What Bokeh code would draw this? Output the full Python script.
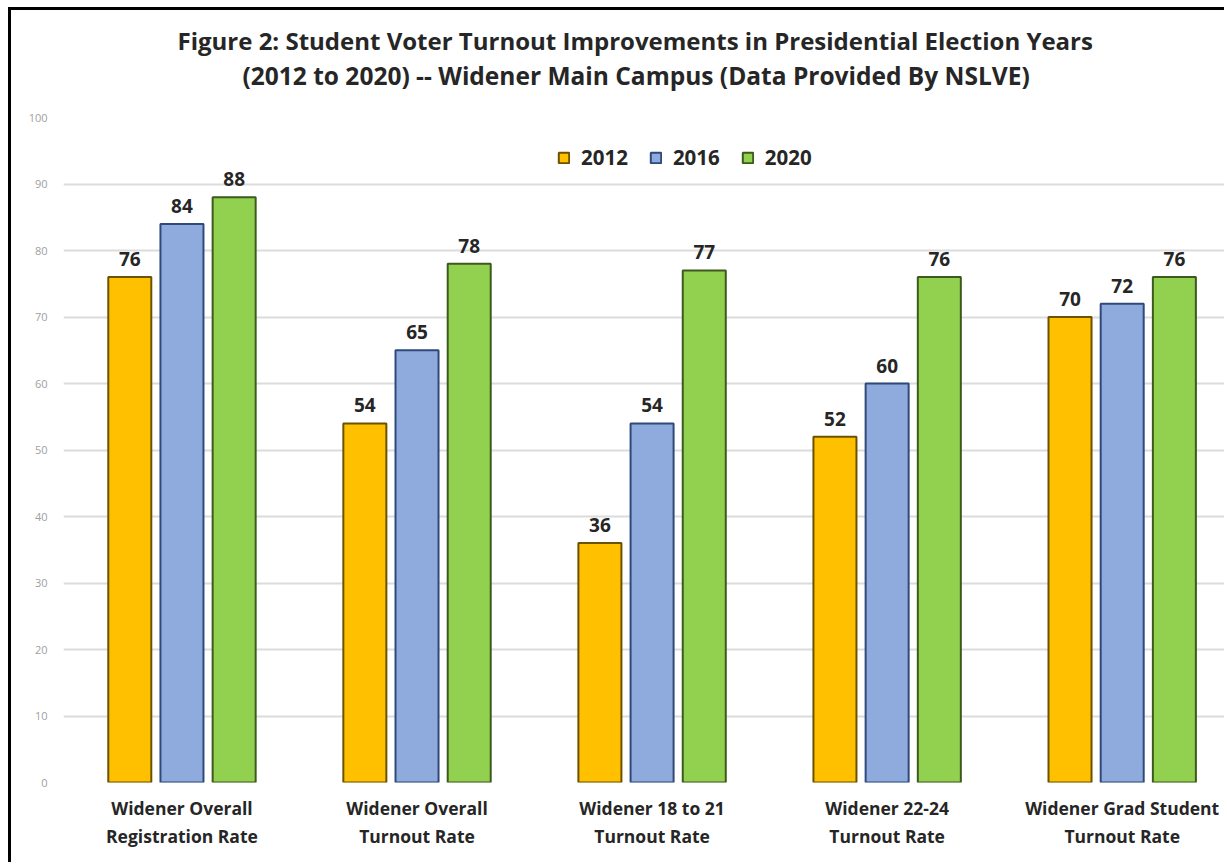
from bokeh.plotting import figure
from bokeh.models import ColumnDataSource, Range1d, FixedTicker, Legend, LegendItem, Title
from bokeh.transform import dodge
from bokeh.core.properties import value
from bokeh.embed import file_html
from bokeh.resources import INLINE

categories = ["Widener Overall\nRegistration Rate", "Widener Overall\nTurnout Rate",
              "Widener 18 to 21\nTurnout Rate", "Widener 22-24\nTurnout Rate",
              "Widener Grad Student\nTurnout Rate"]
y2012 = [76, 54, 36, 52, 70]
y2016 = [84, 65, 54, 60, 72]
y2020 = [88, 78, 77, 76, 76]
years = ["2012", "2016", "2020"]
y_ticks = list(range(0, 101, 10))
title_line1 = "Figure 2: Student Voter Turnout Improvements in Presidential Election Years"
title_line2 = "(2012 to 2020) -- Widener Main Campus (Data Provided By NSLVE)"

FONT = "Open Sans"
TXT = "#262626"
src = ColumnDataSource(dict(
    x=list(range(len(categories))),
    y2012=y2012, y2016=y2016, y2020=y2020,
    t2012=[str(v) for v in y2012], t2016=[str(v) for v in y2016], t2020=[str(v) for v in y2020],
))

p = figure(width=1216, height=855, output_backend="svg", toolbar_location=None,
           x_range=Range1d(-0.504, 4.448), y_range=Range1d(0, 100),
           min_border_left=52, min_border_right=0, min_border_top=107, min_border_bottom=83)
p.styles = {"margin-left": "8px", "margin-top": "7px",
            "border-left": "3px solid black", "border-top": "3px solid black"}
p.outline_line_color = None
p.background_fill_color = "white"
p.border_fill_color = "white"

# title: line 1 is the figure title (outermost); a small spacer and line 2 sit below it
p.title.text = title_line1
p.title.align = "left"
p.title.offset = 114
p.title.text_font = FONT
p.title.text_font_style = "bold"
p.title.text_font_size = "24px"
p.title.text_color = TXT
p.title.standoff = 0
p.add_layout(Title(text=" ", text_font_size="2px", standoff=22), "above")
p.add_layout(Title(text=title_line2, align="left", offset=179, text_font=FONT,
                   text_font_style="bold", text_font_size="24.5px", text_color=TXT,
                   standoff=0), "above")

fills = ["#FFC000", "#8FAADC", "#92D050"]
lines = ["#6B5200", "#2F4A7A", "#3D5A1E"]
offs = [-0.222, 0.0, 0.222]
items = []
for yr, fc, lc, off in zip(years, fills, lines, offs):
    r = p.vbar(x=dodge("x", off), top="y" + yr, width=0.183, source=src,
               fill_color=fc, line_color=lc, line_width=2)
    items.append(LegendItem(label=yr, renderers=[r]))
    p.text(x=dodge("x", off), y="y" + yr, text="t" + yr, source=src,
           text_align="center", text_baseline="bottom", y_offset=-11,
           text_font=value(FONT), text_font_style="bold", text_font_size="19px",
           text_color=TXT)

leg = Legend(items=items, orientation="horizontal", location=(494, 611),
             background_fill_alpha=0, border_line_color=None,
             label_text_font=FONT, label_text_font_style="bold", label_text_font_size="20.5px",
             label_text_color=TXT, glyph_width=13, glyph_height=13,
             spacing=21, label_standoff=11, padding=2, margin=0)
p.add_layout(leg, "center")

p.xaxis.ticker = FixedTicker(ticks=list(range(len(categories))))
p.xaxis.major_label_overrides = {i: c for i, c in enumerate(categories)}
p.xaxis.major_label_text_font = FONT
p.xaxis.major_label_text_font_style = "bold"
p.xaxis.major_label_text_font_size = "17.5px"
p.xaxis.major_label_text_color = TXT
p.xaxis.axis_line_color = None
p.xaxis.major_tick_line_color = None
p.xaxis.minor_tick_line_color = None
p.xaxis.major_label_standoff = 7

p.yaxis.ticker = FixedTicker(ticks=y_ticks)
p.yaxis.major_label_text_font = FONT
p.yaxis.major_label_text_font_size = "11px"
p.yaxis.major_label_text_color = "#A0A0A0"
p.yaxis.axis_line_color = None
p.yaxis.major_tick_line_color = None
p.yaxis.minor_tick_line_color = None
p.yaxis.major_label_standoff = 10

p.xgrid.grid_line_color = None
p.ygrid.ticker = FixedTicker(ticks=y_ticks)
p.ygrid.grid_line_color = "#DCDCDC"
p.ygrid.grid_line_width = 2

open("out.html", "w").write(file_html(p, INLINE))
